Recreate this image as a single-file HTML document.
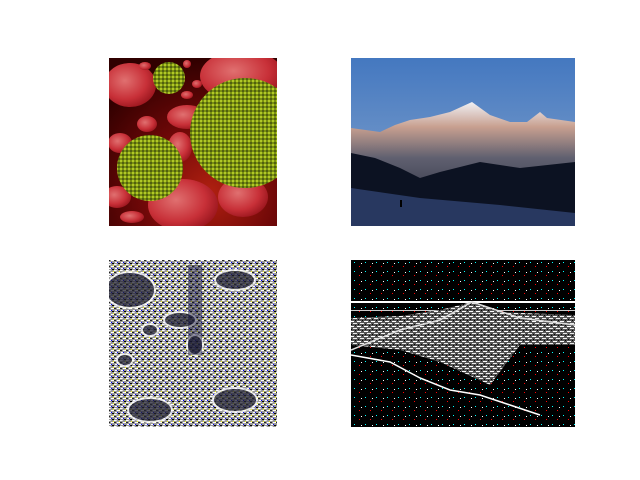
<!DOCTYPE html>
<html><head><meta charset="utf-8"><style>
html,body{margin:0;padding:0;background:#fff;width:640px;height:480px;overflow:hidden;font-family:"Liberation Sans",sans-serif}
</style></head><body>
<svg width="640" height="480" xmlns="http://www.w3.org/2000/svg">
<defs>
<radialGradient id="bg1" cx="0.6" cy="0.8" r="0.8"><stop offset="0" stop-color="#b02010"/><stop offset="0.5" stop-color="#700808"/><stop offset="1" stop-color="#300000"/></radialGradient>
<radialGradient id="rbc" cx="0.4" cy="0.4" r="0.7"><stop offset="0" stop-color="#e07070"/><stop offset="0.6" stop-color="#c83038"/><stop offset="1" stop-color="#901018"/></radialGradient>
<pattern id="gp" width="4" height="4" patternUnits="userSpaceOnUse"><rect width="4" height="4" fill="#7a9010"/><rect width="2" height="2" fill="#b0c828"/><rect x="2" y="2" width="2" height="2" fill="#506010"/></pattern>
<linearGradient id="sky" x1="0" y1="0" x2="0" y2="1"><stop offset="0" stop-color="#4478c0"/><stop offset="0.6" stop-color="#6f95c8"/><stop offset="1" stop-color="#b0a8b8"/></linearGradient>
<linearGradient id="mt" x1="0" y1="0" x2="0" y2="1"><stop offset="0" stop-color="#f0f0f4"/><stop offset="0.2" stop-color="#c8a090"/><stop offset="0.45" stop-color="#606070"/><stop offset="1" stop-color="#1a2030"/></linearGradient>
<pattern id="noise1" width="6" height="6" patternUnits="userSpaceOnUse"><rect width="6" height="6" fill="#999"/><rect width="2" height="1" fill="#fff"/><rect x="3" y="2" width="3" height="1" fill="#fff"/><rect x="1" y="4" width="2" height="1" fill="#fff"/><rect x="4" y="5" width="2" height="1" fill="#000"/><rect x="0" y="2" width="2" height="1" fill="#222"/><rect x="2" y="0" width="1" height="1" fill="#ddd"/><rect x="5" y="1" width="1" height="1" fill="#ff0"/><rect x="3" y="4" width="1" height="1" fill="#00f"/></pattern>
<pattern id="noise2" width="7" height="5" patternUnits="userSpaceOnUse"><rect width="7" height="5" fill="#555"/><rect x="0" y="1" width="4" height="1" fill="#fff"/><rect x="3" y="3" width="4" height="1" fill="#eee"/><rect x="5" y="0" width="1" height="1" fill="#000"/><rect x="1" y="4" width="1" height="1" fill="#000"/></pattern>
<pattern id="spk" width="11" height="9" patternUnits="userSpaceOnUse"><rect width="11" height="9" fill="#000"/><rect x="2" y="1" width="1" height="1" fill="#0ff"/><rect x="7" y="5" width="1" height="1" fill="#f00"/><rect x="9" y="2" width="1" height="1" fill="#fff"/></pattern>
<clipPath id="c1"><rect x="109" y="58" width="168" height="168"/></clipPath>
<clipPath id="c2"><rect x="351" y="58" width="224" height="168"/></clipPath>
<clipPath id="c3"><rect x="109" y="260" width="168" height="167"/></clipPath>
<clipPath id="c4"><rect x="351" y="260" width="224" height="167"/></clipPath>
</defs>

<g clip-path="url(#c1)">
<rect x="109" y="58" width="168" height="168" fill="url(#bg1)"/>
<g fill="url(#rbc)">
<ellipse cx="130" cy="85" rx="26" ry="22"/><ellipse cx="242" cy="76" rx="42" ry="26"/>
<ellipse cx="183" cy="205" rx="35" ry="26"/><ellipse cx="243" cy="197" rx="25" ry="20"/>
<ellipse cx="187" cy="117" rx="20" ry="12"/><ellipse cx="147" cy="124" rx="10" ry="8"/>
<ellipse cx="120" cy="143" rx="12" ry="10"/><ellipse cx="180" cy="147" rx="12" ry="15"/>
<ellipse cx="117" cy="197" rx="14" ry="11"/><ellipse cx="132" cy="217" rx="12" ry="6"/>
<ellipse cx="145" cy="66" rx="6" ry="4"/><ellipse cx="187" cy="64" rx="4" ry="4"/><ellipse cx="197" cy="84" rx="5" ry="4"/><ellipse cx="187" cy="95" rx="6" ry="4"/>
</g>
<circle cx="169" cy="78" r="16" fill="url(#gp)"/>
<circle cx="245" cy="133" r="55" fill="url(#gp)"/>
<circle cx="150" cy="168" r="33" fill="url(#gp)"/>
</g>

<g clip-path="url(#c2)">
<rect x="351" y="58" width="224" height="168" fill="url(#sky)"/>
<polygon points="351,128 380,132 395,125 410,120 430,117 450,112 472,102 490,115 510,122 527,122 540,112 547,118 575,122 575,226 351,226" fill="url(#mt)"/>
<polygon points="351,153 375,158 400,168 420,178 440,172 480,162 520,168 575,162 575,226 351,226" fill="#0c1222"/>
<polygon points="351,188 420,198 500,205 575,213 575,226 351,226" fill="#283860"/>
<rect x="400" y="200" width="2" height="7" fill="#000"/>
</g>

<g clip-path="url(#c3)">
<rect x="109" y="260" width="168" height="167" fill="url(#noise1)"/>
<g fill="#223" stroke="#fff" stroke-width="2" opacity="0.75">
<ellipse cx="130" cy="290" rx="25" ry="18"/><ellipse cx="180" cy="320" rx="16" ry="8"/>
<ellipse cx="150" cy="330" rx="8" ry="6"/><ellipse cx="195" cy="345" rx="8" ry="10"/>
<ellipse cx="235" cy="280" rx="20" ry="10"/><ellipse cx="235" cy="400" rx="22" ry="12"/>
<ellipse cx="150" cy="410" rx="22" ry="12"/><ellipse cx="125" cy="360" rx="8" ry="6"/>
</g>
<rect x="188" y="265" width="14" height="90" fill="#113" opacity="0.45"/>
</g>

<g clip-path="url(#c4)">
<rect x="351" y="260" width="224" height="167" fill="url(#spk)"/>
<rect x="351" y="301" width="224" height="2" fill="#fff"/>
<rect x="351" y="310" width="224" height="1" fill="#ccc"/>
<polygon points="351,318 400,316 440,310 472,302 500,312 575,315 575,345 520,345 490,385 440,362 400,350 351,345" fill="url(#noise2)"/>
<polyline points="351,355 390,362 420,378 450,390 480,395 510,405 540,415" fill="none" stroke="#fff" stroke-width="1.5"/>
<polyline points="351,350 400,330 440,320 472,302 520,318 575,325" fill="none" stroke="#ddd" stroke-width="1.5"/>
</g>
</svg>
</body></html>
